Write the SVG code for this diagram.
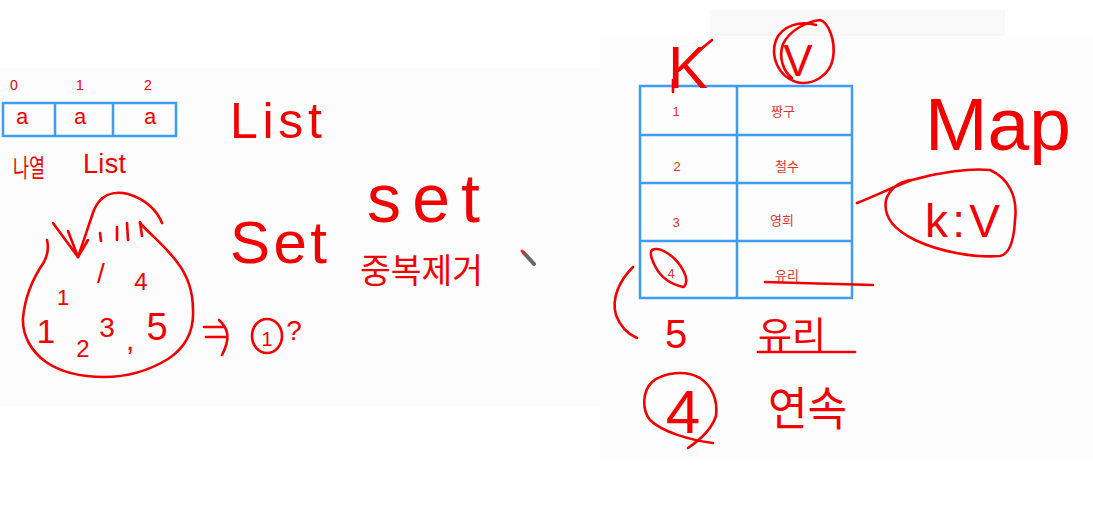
<svg xmlns="http://www.w3.org/2000/svg" width="1093" height="530" viewBox="0 0 1093 530">
<style>
.hw{fill:#f20000;font-family:"Liberation Sans","Noto Sans CJK KR",sans-serif}
.st{fill:none;stroke:#f20000;stroke-width:2.6;stroke-linecap:round;stroke-linejoin:round}
.tb{fill:none;stroke:#3d9df5;stroke-width:2.5}
.ty{fill:#e3322c;font-family:"Liberation Sans","Noto Sans CJK KR",sans-serif;font-size:13px}
</style>
<rect width="1093" height="530" fill="#ffffff"/>
<rect x="0" y="68" width="605" height="338" fill="#fcfcfc"/>
<rect x="600" y="36" width="493" height="424" fill="#fdfdfd"/>
<rect x="710" y="10" width="295" height="25" fill="#f9f9f9"/>
<line x1="710" y1="35" x2="1005" y2="35" stroke="#f1f1f1" stroke-width="1"/>

<g id="list-array">
  <rect class="tb" x="3" y="103" width="173" height="33"/>
  <line class="tb" x1="55" y1="103" x2="55" y2="136"/>
  <line class="tb" x1="113" y1="103" x2="113" y2="136"/>
  <text class="hw" x="14" y="90" font-size="14" text-anchor="middle">0</text>
  <text class="hw" x="80" y="90" font-size="14" text-anchor="middle">1</text>
  <text class="hw" x="148" y="90" font-size="14" text-anchor="middle">2</text>
  <text class="hw" x="22" y="124" font-size="22" text-anchor="middle">a</text>
  <text class="hw" x="80" y="124" font-size="22" text-anchor="middle">a</text>
  <text class="hw" x="150" y="124" font-size="22" text-anchor="middle">a</text>
</g>
<g id="list-labels">
  <text class="hw" x="230" y="138" font-size="50" textLength="92" lengthAdjust="spacing">List</text>
  <text class="hw" x="13" y="177" font-size="25" textLength="32" lengthAdjust="spacingAndGlyphs">나열</text>
  <text class="hw" x="83" y="173" font-size="27" textLength="43" lengthAdjust="spacing">List</text>
</g>

<g id="set-blob">
  <path class="st" d="M47,240 C49,248 48,254 44,262 C33,278 25,296 23,318 C22,336 32,352 46,362 C62,373 82,377 104,377 C128,377 150,370 168,359 C186,347 194,330 193,310 C193,292 188,276 177,262 C166,247 152,236 140,223"/>
  <path class="st" d="M162,223 C157,210 145,199 128,194 C112,190 100,196 94,210 C89,224 84,240 78,257"/>
  <path class="st" d="M53,223 L78,257 M68,231 L78,257 L88,240"/>
  <path class="st" d="M100,233 L101,241 M117,227 L117,240 M127,223 L128,240 M140,222 L142,236"/>
  <text class="hw" x="101" y="283" font-size="28" text-anchor="middle">/</text>
  <text class="hw" x="141" y="290" font-size="24" text-anchor="middle">4</text>
  <text class="hw" x="63" y="305" font-size="22" text-anchor="middle">1</text>
  <text class="hw" x="46" y="343" font-size="33" text-anchor="middle">1</text>
  <text class="hw" x="83" y="357" font-size="24" text-anchor="middle">2</text>
  <text class="hw" x="107" y="337" font-size="28" text-anchor="middle">3</text>
  <text class="hw" x="126" y="350" font-size="30">,</text>
  <text class="hw" x="157" y="340" font-size="38" text-anchor="middle">5</text>
</g>
<g id="set-result">
  <path class="st" d="M204,327 L224,327 M206,337 L226,337 M219,320 C228,328 231,338 222,355"/>
  <ellipse class="st" cx="267" cy="336" rx="15" ry="17"/>
  <text class="hw" x="267" y="346" font-size="20" text-anchor="middle">1</text>
  <text class="hw" x="294" y="340" font-size="28" text-anchor="middle">?</text>
</g>
<g id="set-labels">
  <text class="hw" x="230" y="263" font-size="60" textLength="97" lengthAdjust="spacing">Set</text>
  <text class="hw" x="367" y="222" font-size="68" textLength="113" lengthAdjust="spacing">set</text>
  <text class="hw" x="360" y="283" font-size="34" textLength="123" lengthAdjust="spacingAndGlyphs">중복제거</text>
</g>
<g id="pencil">
  <line x1="524" y1="253" x2="534" y2="264" stroke="#666" stroke-width="4" stroke-linecap="round"/>
  <line x1="522" y1="251" x2="524" y2="253" stroke="#e22" stroke-width="3" stroke-linecap="round"/>
</g>

<g id="map-table">
  <rect class="tb" x="640" y="86" width="212" height="212"/>
  <line class="tb" x1="737" y1="86" x2="737" y2="298"/>
  <line class="tb" x1="640" y1="135" x2="852" y2="135"/>
  <line class="tb" x1="640" y1="183" x2="852" y2="183"/>
  <line class="tb" x1="640" y1="241" x2="852" y2="241"/>
  <text class="ty" x="676" y="116" text-anchor="middle">1</text>
  <text class="ty" x="783" y="116" text-anchor="middle">짱구</text>
  <text class="ty" x="677" y="171" text-anchor="middle">2</text>
  <text class="ty" x="787" y="171" text-anchor="middle">철수</text>
  <text class="ty" x="676" y="227" text-anchor="middle">3</text>
  <text class="ty" x="782" y="225" text-anchor="middle">영희</text>
  <text class="ty" x="671" y="278" text-anchor="middle">4</text>
  <text class="ty" x="787" y="280" text-anchor="middle">유리</text>
</g>
<g id="key-label">
  <text class="hw" x="668" y="88" font-size="60">K</text>
  <path class="st" d="M712,40 L690,58 M673,80 L673,92"/>
</g>
<g id="value-label">
  <path class="st" d="M816,25 C800,20 782,26 776,40 C770,56 778,76 796,82 C812,86 830,76 833,58 C836,40 828,22 820,20 C806,22 790,30 783,44 C778,58 784,72 792,78"/>
  <text class="hw" x="798" y="76" font-size="44" text-anchor="middle">V</text>
</g>
<g id="annotations-right">
  <path class="st" d="M652,250 C660,246 676,256 684,272 C688,280 686,286 683,287 C670,284 660,276 655,266 C651,258 650,252 652,250"/>
  <path class="st" d="M765,282 L800,283 L873,285"/>
  <path class="st" d="M633,267 C620,280 611,298 616,315 C620,326 628,334 637,338"/>
  <text class="hw" x="676" y="348" font-size="40" text-anchor="middle">5</text>
  <text class="hw" x="758" y="348" font-size="36" textLength="68" lengthAdjust="spacingAndGlyphs">유리</text>
  <path class="st" d="M758,352 L855,352"/>
  <path class="st" d="M688,448 C700,440 712,428 716,416 C718,400 712,386 700,378 C686,370 664,372 652,382 C642,392 642,410 650,420 C662,432 690,440 713,443"/>
  <text class="hw" x="683" y="433" font-size="62" text-anchor="middle">4</text>
  <text class="hw" x="768" y="425" font-size="46" textLength="79" lengthAdjust="spacingAndGlyphs">연속</text>
</g>
<g id="map-label">
  <text class="hw" x="925" y="150" font-size="75">Map</text>
</g>
<g id="kv-bubble">
  <path class="st" d="M857,203 C875,196 895,186 912,180 C940,172 970,168 990,170 C1008,178 1018,196 1015,220 C1014,240 1010,254 1000,256 C975,258 940,252 915,240 C895,230 883,218 886,200 C890,188 900,182 910,180"/>
  <text class="hw" x="925" y="237" font-size="46" textLength="75" lengthAdjust="spacing">k:V</text>
</g>
</svg>
